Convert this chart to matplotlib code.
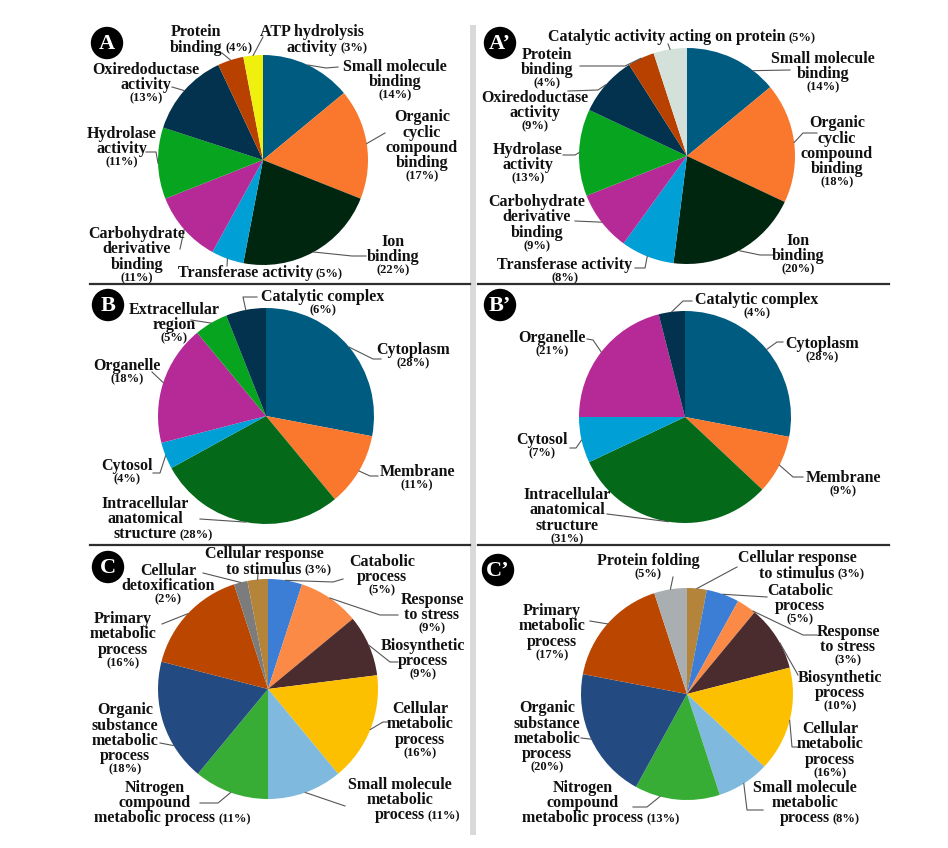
import numpy as np
import matplotlib.pyplot as plt
from matplotlib.patches import Circle, Rectangle
from matplotlib.offsetbox import TextArea, HPacker, VPacker, AnnotationBbox

# ---------------- data ----------------
a_labels = ["Small molecule\nbinding", "Organic\ncyclic\ncompound\nbinding", "Ion\nbinding",
            "Transferase activity", "Carbohydrate\nderivative\nbinding", "Hydrolase\nactivity",
            "Oxiredoductase\nactivity", "Protein\nbinding", "ATP hydrolysis\nactivity"]
a_values = [14, 17, 22, 5, 11, 11, 13, 4, 3]
a_colors = ['#005b80', '#f9782d', '#002610', '#00a0d6', '#b62a98', '#07a51f',
            '#02324d', '#b84100', '#f0f00e']

a2_labels = ["Small molecule\nbinding", "Organic\ncyclic\ncompound\nbinding", "Ion\nbinding",
             "Transferase activity", "Carbohydrate\nderivative\nbinding", "Hydrolase\nactivity",
             "Oxiredoductase\nactivity", "Protein\nbinding", "Catalytic activity acting on protein"]
a2_values = [14, 18, 20, 8, 9, 13, 9, 4, 5]
a2_colors = ['#005b80', '#f9782d', '#002610', '#00a0d6', '#b62a98', '#07a51f',
             '#02324d', '#b84100', '#d4e1da']

b_labels = ["Cytoplasm", "Membrane", "Intracellular\nanatomical\nstructure", "Cytosol",
            "Organelle", "Extracellular\nregion", "Catalytic complex"]
b_values = [28, 11, 28, 4, 18, 5, 6]
b_colors = ['#005b80', '#f9782d', '#05691a', '#00a0d6', '#b62a98', '#07a51f', '#02324d']

b2_labels = ["Cytoplasm", "Membrane", "Intracellular\nanatomical\nstructure", "Cytosol",
             "Organelle", "Catalytic complex"]
b2_values = [28, 9, 31, 7, 21, 4]
b2_colors = ['#005b80', '#f9782d', '#05691a', '#00a0d6', '#b62a98', '#02324d']

c_labels = ["Catabolic\nprocess", "Response\nto stress", "Biosynthetic\nprocess",
            "Cellular\nmetabolic\nprocess", "Small molecule\nmetabolic\nprocess",
            "Nitrogen\ncompound\nmetabolic process", "Organic\nsubstance\nmetabolic\nprocess",
            "Primary\nmetabolic\nprocess", "Cellular\ndetoxification",
            "Cellular response\nto stimulus"]
c_values = [5, 9, 9, 16, 11, 11, 18, 16, 2, 3]
c_colors = ['#3c7dd5', '#fb8a47', '#4a2c2e', '#fdc001', '#80b9de', '#38ad36',
            '#244b81', '#bb4600', '#7c7c7c', '#b3843a']

c2_labels = ["Cellular response\nto stimulus", "Catabolic\nprocess", "Response\nto stress",
             "Biosynthetic\nprocess", "Cellular\nmetabolic\nprocess",
             "Small molecule\nmetabolic\nprocess", "Nitrogen\ncompound\nmetabolic process",
             "Organic\nsubstance\nmetabolic\nprocess", "Primary\nmetabolic\nprocess",
             "Protein folding"]
c2_values = [3, 5, 3, 10, 16, 8, 13, 20, 17, 5]
c2_colors = ['#b3843a', '#3c7dd5', '#fb8a47', '#4a2c2e', '#fdc001', '#80b9de',
             '#38ad36', '#244b81', '#bb4600', '#a9aeb1']

# ---------------- layout (pixel coords, y down) ----------------
# each label: (label centre, leader end, leader elbow, pct inline, fraction in slice)
a_layout = [((395, 80), (338, 67), (326, 68), False, 0.5),
            ((422, 146), (385, 133), None, False, 0.5),
            ((393, 255), (366, 256), (352, 256), False, 0.5),
            ((260, 273), (227, 266), None, True, 0.5),
            ((137, 255), (180, 249), None, False, 0.5),
            ((122, 147), (146, 152), (156, 152), False, 0.5),
            ((146, 83), (172, 87), None, False, 0.5),
            ((196, 40), (222, 53), None, True, 0.5),
            ((312, 40), (263, 37), None, True, 0.5)]
a2_layout = [((823, 72), (790, 70), None, False, 0.75),
             ((837, 152), (817, 133), (803, 133), False, 0.5),
             ((798, 254), (773, 255), (760, 255), False, 0.5),
             ((565, 271), (635, 268), (645, 268), False, 0.5),
             ((537, 223), (575, 221), None, False, 0.5),
             ((528, 163), (563, 155), (575, 155), False, 0.5),
             ((535, 111), (568, 91), (598, 90), False, 0.5),
             ((547, 68), (580, 66), (625, 66), False, 0.5),
             ((682, 37), (668, 44), None, True, 0.5)]
b_layout = [((413, 356), (381, 359), (373, 359), False, 0.5),
            ((417, 478), (378, 476), (370, 476), False, 0.5),
            ((145, 519), (200, 519), None, True, 0.5),
            ((127, 472), (153, 473), (160, 473), False, 0.5),
            ((127, 372), (152, 372), None, False, 0.5),
            ((174, 323), (191, 320), None, False, 0.5),
            ((323, 303), (257, 297), (243, 297), False, 0.5)]
b2_layout = [((822, 350), (783, 342), (777, 342), False, 0.5),
             ((843, 484), (803, 477), (793, 477), False, 0.5),
             ((567, 516), (607, 514), None, False, 0.5),
             ((542, 446), (570, 448), (576, 448), False, 0.5),
             ((552, 344), (587, 339), (593, 340), False, 0.5),
             ((757, 306), (692, 301), (683, 301), False, 0.5)]
c_layout = [((382, 575), (343, 579), (333, 582), False, 0.5),
            ((432, 613), (398, 615), (380, 615), False, 0.5),
            ((423, 659), (398, 662), (390, 662), False, 0.5),
            ((420, 730), (390, 722), (383, 722), False, 0.5),
            ((400, 800), (345, 806), None, True, 0.5),
            ((155, 803), (200, 803), (218, 803), True, 0.5),
            ((125, 739), (160, 743), None, False, 0.3),
            ((123, 640), (162, 624), None, False, 0.5),
            ((168, 584), (203, 573), None, False, 0.5),
            ((264, 562), (258, 572), None, True, 0.5)]
c2_layout = [((797, 566), (737, 567), None, True, 0.5),
             ((800, 604), (767, 597), None, False, 0.5),
             ((848, 645), (817, 635), (803, 635), False, 0.9),
             ((840, 691), (798, 675), None, False, 0.6),
             ((830, 750), (800, 747), (792, 747), False, 0.5),
             ((805, 803), (763, 810), (747, 810), True, 0.5),
             ((583, 803), (633, 807), (647, 807), True, 0.7),
             ((547, 737), (581, 738), None, False, 0.5),
             ((552, 632), (590, 621), None, False, 0.5),
             ((648, 567), (673, 577), None, False, 0.5)]

FONT = 'Liberation Serif'
NAME_SIZE = 11.5
PCT_SIZE = 9


def props(size, color='#111111'):
    return dict(fontfamily=FONT, fontweight='bold', fontsize=size, color=color)


def make_label(name, pct, inline):
    lines = name.split("\n")
    rows = []
    for i, ln in enumerate(lines):
        row = TextArea(ln, textprops=props(NAME_SIZE))
        if inline and i == len(lines) - 1:
            kids = [row, TextArea(pct, textprops=props(PCT_SIZE))]
            if len(lines) > 1:
                # invisible copy on the left keeps the words centred like the other lines
                kids.insert(0, TextArea(pct, textprops=props(PCT_SIZE, 'none')))
            row = HPacker(children=kids, align='baseline', pad=0, sep=2)
        rows.append(row)
    if not inline:
        rows.append(TextArea(pct, textprops=props(PCT_SIZE)))
    return VPacker(children=rows, align='center', pad=0, sep=-0.5)


def draw_panel(ax, labels, values, colors, center, radius, layout, badge, badge_xy):
    # y axis is inverted, so startangle -90 / counterclock=True gives top start, clockwise
    ax.pie(values, colors=colors, center=center, radius=radius, startangle=-90,
           counterclock=True, wedgeprops=dict(linewidth=0))
    total = float(sum(values))
    cum = 0.0
    for name, v, (pos, end, elbow, inline, frac) in zip(labels, values, layout):
        theta = np.deg2rad(-90 + 360 * (cum + frac * v) / total)
        start = (center[0] + radius * np.cos(theta), center[1] + radius * np.sin(theta))
        pts = [start] + ([elbow] if elbow else []) + [end]
        ax.plot([p[0] for p in pts], [p[1] for p in pts], color='#555555', lw=0.8, zorder=3)
        box = make_label(name, "(%d%%)" % v, inline)
        ax.add_artist(AnnotationBbox(box, pos, xycoords='data', frameon=False,
                                     box_alignment=(0.5, 0.5), pad=0,
                                     annotation_clip=False, zorder=4))
        cum += v
    ax.add_patch(Circle(badge_xy, 15.5, color='black', zorder=5))
    ax.text(badge_xy[0], badge_xy[1] + 1, badge, color='white', ha='center', va='center',
            fontsize=16, fontweight='bold', fontfamily=FONT, zorder=6)


fig = plt.figure(figsize=(9.48, 8.48), dpi=100)
ax = fig.add_axes([0, 0, 1, 1])

draw_panel(ax, a_labels, a_values, a_colors, (263, 160), 105, a_layout, "A", (107, 43))
draw_panel(ax, a2_labels, a2_values, a2_colors, (687, 156), 108, a2_layout, "A\u2019", (500, 43))
draw_panel(ax, b_labels, b_values, b_colors, (266, 416), 108, b_layout, "B", (108, 305))
draw_panel(ax, b2_labels, b2_values, b2_colors, (685, 417), 106, b2_layout, "B\u2019", (500, 305))
draw_panel(ax, c_labels, c_values, c_colors, (268, 689), 110, c_layout, "C", (108, 567))
draw_panel(ax, c2_labels, c2_values, c2_colors, (687, 694), 106, c2_layout, "C\u2019", (498, 570))

# panel separators
ax.add_patch(Rectangle((470, 25), 6, 810, color='#d9d9d9', lw=0, zorder=1))
for y in (284, 545):
    ax.plot([90, 470], [y, y], color='#2e2e2e', lw=1.6)
    ax.plot([478, 889], [y, y], color='#2e2e2e', lw=1.6)

ax.set_xlim(0, 948)
ax.set_ylim(848, 0)
ax.set_aspect('equal')
ax.axis('off')

fig.savefig('out.png', dpi=100)
